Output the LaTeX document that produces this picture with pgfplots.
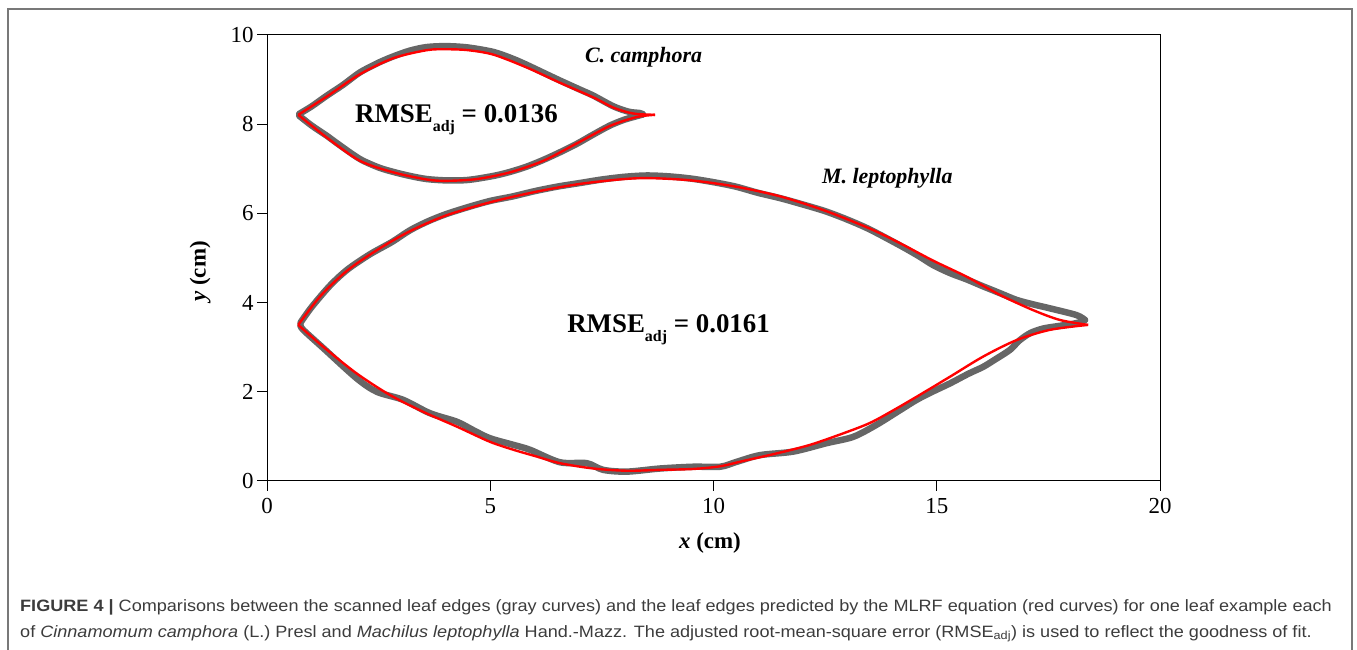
\documentclass[border=0pt]{standalone}
\usepackage{fontspec}
\setmainfont{Liberation Serif}
\newfontfamily\capfont[FakeStretch=1.1]{Liberation Sans}
\usepackage{pgfplots}
\pgfplotsset{compat=1.18}

\definecolor{leafgray}{RGB}{102,102,102}
\definecolor{fitred}{RGB}{255,0,0}
\definecolor{framegray}{RGB}{120,120,120}
\definecolor{captext}{RGB}{60,60,60}

\newcommand{\rmse}[1]{\textbf{RMSE\raisebox{-9bp}{\fontsize{16}{16}\selectfont adj} = #1}}

\begin{document}
\begin{tikzpicture}
\path[use as bounding box] (0,0) rectangle (1357bp,650bp);
% outer figure frame (open at the bottom)
\draw[framegray, line width=1.4bp] (8bp,0bp) -- (8bp,641bp) -- (1352bp,641bp) -- (1352bp,0bp);

\begin{axis}[
    at={(267bp,169bp)}, anchor=south west,
    width=893bp, height=446bp, scale only axis,
    xmin=0, xmax=20, ymin=0, ymax=10,
    xtick={0,5,...,20}, ytick={0,2,...,10},
    tick pos=left, tick align=outside,
    major tick length=10bp,
    every tick/.style={black, line width=1bp},
    axis line style={line width=1bp},
    /pgf/number format/assume math mode=true,
    ticklabel style={font=\fontsize{23}{25}\selectfont},
    xticklabel style={yshift=-4bp},
    xlabel={\textbf{\textit{x} (cm)}},
    ylabel={\textbf{\textit{y} (cm)}},
    every axis x label/.style={at={(axis description cs:0.496,-0.139)}, anchor=center,
        font=\fontsize{23}{25}\selectfont},
    every axis y label/.style={at={(axis description cs:-0.075,0.47)}, rotate=90, anchor=center,
        font=\fontsize{23}{25}\selectfont},
    clip=false,
]
% C. camphora, scanned edge
\addplot[leafgray, line width=6.5bp, line cap=round, smooth] coordinates {
(0.72,8.23) (1.0,8.40) (1.34,8.64) (1.7,8.88) (2.08,9.16) (2.5,9.38) (2.83,9.52)
(3.2,9.65) (3.58,9.73) (4.02,9.75) (4.5,9.72) (5.07,9.62) (5.5,9.47) (5.82,9.33)
(6.2,9.15) (6.56,8.98) (7.0,8.78) (7.31,8.64) (7.76,8.40) (8.1,8.28) (8.35,8.25) (8.42,8.22)
};
\addplot[leafgray, line width=6.5bp, line cap=round, smooth] coordinates {
(0.72,8.19) (1.0,7.97) (1.34,7.74) (1.6,7.55) (2.08,7.22) (2.5,7.03) (2.83,6.93)
(3.2,6.84) (3.58,6.77) (4.02,6.74) (4.5,6.75) (5.07,6.84) (5.44,6.93) (5.82,7.05)
(6.19,7.20) (6.56,7.37) (6.94,7.56) (7.31,7.77) (7.68,7.97) (8.0,8.10) (8.28,8.18) (8.42,8.22)
};
% M. leptophylla, scanned edge
\addplot[leafgray, line width=6.5bp, line cap=round, smooth] coordinates {
(0.75,3.55) (1.0,3.9) (1.41,4.38) (1.8,4.74) (2.3,5.08) (2.8,5.36) (3.2,5.62)
(3.6,5.82) (4.0,5.98) (4.5,6.14) (5.0,6.28) (5.5,6.38) (6.0,6.50) (6.5,6.60)
(7.0,6.68) (7.5,6.76) (8.0,6.82) (8.5,6.85) (9.0,6.83) (9.5,6.78) (10.0,6.70)
(10.5,6.60) (11.0,6.46) (11.5,6.34) (12.0,6.20) (12.5,6.05) (13.0,5.86) (13.5,5.64)
(14.18,5.28) (14.6,5.04) (14.92,4.84) (15.3,4.66) (15.67,4.52) (16.0,4.38)
(16.42,4.21) (16.79,4.06) (17.16,3.96) (17.54,3.87) (18.13,3.72) (18.32,3.61)
};
\addplot[leafgray, line width=6.5bp, line cap=round, smooth] coordinates {
(0.75,3.50) (0.81,3.39) (1.26,2.98) (2.01,2.30) (2.46,2.00) (3.05,1.82) (3.65,1.52)
(4.25,1.33) (4.62,1.14) (4.99,0.96) (5.52,0.81) (5.89,0.70) (6.56,0.42) (7.16,0.40)
(7.53,0.25) (8.06,0.21) (8.80,0.28) (9.55,0.32) (10.15,0.32) (10.52,0.43) (11.04,0.58)
(11.79,0.66) (12.54,0.85) (13.13,0.99) (13.65,1.26) (14.18,1.59) (14.55,1.82)
(14.9,2.00) (15.30,2.19) (15.7,2.40) (16.04,2.56) (16.3,2.72) (16.64,2.94)
(16.85,3.15) (17.1,3.32) (17.39,3.42) (17.76,3.48) (18.13,3.54) (18.32,3.61)
};
% C. camphora, MLRF fit
\addplot[fitred, line width=2.4bp, smooth] coordinates {
(0.70,8.21) (1.34,8.62) (2.08,9.12) (2.83,9.48) (3.58,9.66) (4.02,9.68) (4.5,9.66)
(5.07,9.56) (5.82,9.27) (6.56,8.93) (7.31,8.60) (7.76,8.37) (8.2,8.24) (8.69,8.21)
};
\addplot[fitred, line width=2.4bp, smooth] coordinates {
(0.70,8.21) (1.34,7.70) (2.08,7.18) (2.83,6.92) (3.58,6.76) (4.02,6.73) (4.70,6.77)
(5.44,6.92) (6.19,7.18) (6.94,7.57) (7.68,7.96) (8.28,8.16) (8.69,8.21)
};
% M. leptophylla, MLRF fit
\addplot[fitred, line width=2.4bp, smooth] coordinates {
(0.70,3.50) (1.2,4.15) (1.8,4.72) (2.5,5.20) (3.2,5.60) (4.0,5.95) (5.0,6.25)
(6.0,6.48) (7.0,6.66) (8.0,6.77) (8.6,6.79) (9.5,6.74) (10.5,6.60) (11.5,6.38)
(12.5,6.06) (13.5,5.66) (14.18,5.33) (14.92,4.94) (15.67,4.58) (16.42,4.17)
(17.16,3.83) (17.76,3.61) (18.39,3.50)
};
\addplot[fitred, line width=2.4bp, smooth] coordinates {
(0.70,3.50) (1.26,3.01) (2.01,2.41) (2.75,1.93) (3.50,1.55) (4.25,1.22) (4.99,0.88)
(5.52,0.70) (6.0,0.56) (6.56,0.40) (7.31,0.28) (8.06,0.23) (8.80,0.25) (9.55,0.27)
(10.15,0.33) (10.67,0.45) (11.42,0.62) (12.16,0.81) (12.91,1.07) (13.5,1.30)
(14.0,1.57) (14.55,1.89) (15.30,2.34) (16.04,2.79) (16.79,3.16) (17.54,3.39) (18.39,3.50)
};

\node[anchor=base west, inner sep=0pt, font=\fontsize{27}{30}\selectfont]
    at (axis cs:1.97,8.03) {\rmse{0.0136}};
\node[anchor=base west, inner sep=0pt, font=\fontsize{27}{30}\selectfont]
    at (axis cs:6.72,3.32) {\rmse{0.0161}};
\node[anchor=base west, inner sep=0pt, font=\fontsize{22}{24}\selectfont]
    at (axis cs:7.12,9.38) {\textbf{\textit{C. camphora}}};
\node[anchor=base west, inner sep=0pt, font=\fontsize{22}{24}\selectfont]
    at (axis cs:12.43,6.66) {\textbf{\textit{M. leptophylla}}};
\end{axis}

% caption
\node[anchor=base west, inner sep=0pt, text=captext, font=\capfont\fontsize{16.5}{18}\selectfont]
    at (20bp,39bp) {\textbf{FIGURE 4 |} Comparisons between the scanned leaf edges (gray curves) and the leaf edges predicted by the MLRF equation (red curves) for one leaf example each};
\node[anchor=base west, inner sep=0pt, text=captext, font=\capfont\fontsize{16.5}{18}\selectfont]
    at (20bp,13bp) {of \textit{Cinnamomum camphora} (L.) Presl and \textit{Machilus leptophylla} Hand.-Mazz. The adjusted root-mean-square error (RMSE\textsubscript{adj}) is used to reflect the goodness of fit.};
\end{tikzpicture}
\end{document}
